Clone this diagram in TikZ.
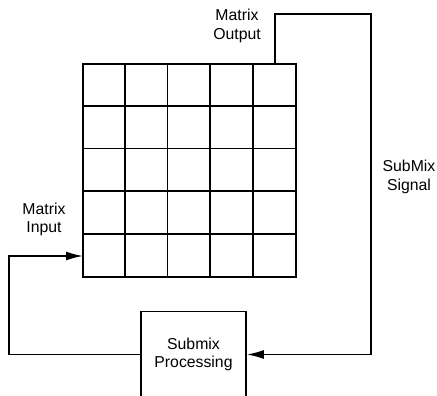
\documentclass[tikz,border=0pt]{standalone}
\usepackage{fontspec}
\setmainfont{Liberation Sans}
\usetikzlibrary{positioning,arrows.meta}

\begin{document}
\begin{tikzpicture}[x=1pt, y=-1pt, >={Latex[length=17pt,width=9pt]}, line width=1.6pt,
    lbl/.style={align=center, font=\fontsize{15.8}{18.5}\selectfont, inner sep=0pt},
    block/.style={draw, minimum width=105pt, minimum height=86pt, inner sep=0pt}]
   \clip (0,0) rectangle (437,396);
   % the matrix
   \node[draw, minimum size=213pt, inner sep=0pt] (mtx) at (189.6,170.6) {};
   \foreach \i in {1,...,4} {
      \draw ([xshift=42.6*\i pt]mtx.north west) -- ([xshift=42.6*\i pt]mtx.south west);
      \draw ([yshift=-42.6*\i pt]mtx.north west) -- ([yshift=-42.6*\i pt]mtx.north east);
   }
   \coordinate (out) at (275,64);
   \coordinate (in)  at (83,256);
   \coordinate (c_1) at (371,14);
   \coordinate (c_2) at (9,256);
   \node[block] (proc) at (193.5,354.5) {};
   % labels
   \node[lbl] (outlbl)  at (237,26)    {Matrix\\Output};
   \node[lbl] (siglbl)  at (409,177)   {SubMix\\Signal};
   \node[lbl] (inlbl)   at (44,219.5)  {Matrix\\Input};
   \node[lbl] (proclbl) at (193.5,354.5) {Submix\\Processing};
   % connectors
   \draw[->] (out) |- (c_1) |- (proc.east);
   \draw[->] (proc.west) -| (c_2) -- (in);
\end{tikzpicture}
\end{document}
